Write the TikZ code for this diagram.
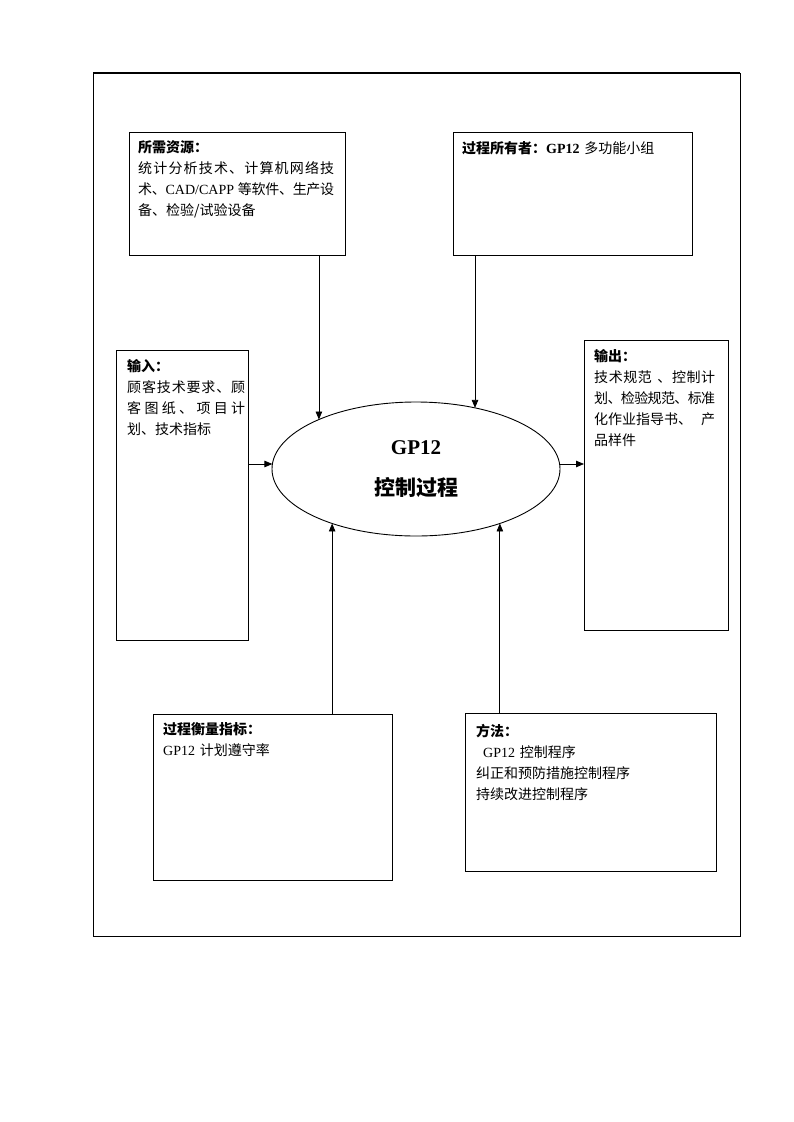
\documentclass[tikz,border=0pt]{standalone}
\usepackage{fontspec}
\setmainfont{Liberation Serif}
\newfontfamily\cj{Noto Sans CJK SC}
\usetikzlibrary{shapes.geometric,arrows.meta}
\makeatletter
\newcommand\gl{\hskip 0pt plus 1fil minus 1fil\relax}
\newcommand\spreadln[2]{\makebox[#1][s]{\def\sl@f{1}\@tfor\sl@c:=#2\do{\ifx\sl@f\@empty\gl\fi\sl@c\let\sl@f\@empty}}}
\makeatother
\newcommand\la[1]{{\rmfamily #1}}
\tikzset{
  box/.style={draw, line width=0.9pt, inner sep=0pt, outer sep=0pt, anchor=north west},
  txt/.style={inner sep=0pt, anchor=base west, text width=#1, align=left,
    font=\fontsize{14}{21}\selectfont\cj},
  arr/.style={line width=0.8pt, -{Triangle[length=8pt,width=6.5pt]}},
}
\begin{document}
\begin{tikzpicture}[x=1pt,y=-1pt]
\useasboundingbox (0,0) rectangle (793,1122);
% outer frame
\node[box, line width=1pt, minimum width=647pt, minimum height=863pt] (frame) at (93,73) {};
\draw[line width=2.2pt] (frame.north west) -- (frame.north east);
% boxes
\node[box, minimum width=216pt, minimum height=123pt] (res) at (129,132) {};
\node[box, minimum width=239pt, minimum height=123pt] (own) at (453,132) {};
\node[box, minimum width=132pt, minimum height=290pt] (inp) at (116,350) {};
\node[box, minimum width=144pt, minimum height=290pt] (out) at (584,340) {};
\node[box, minimum width=239pt, minimum height=166pt] (meas) at (153,714) {};
\node[box, minimum width=251pt, minimum height=158pt] (meth) at (465,713) {};
% central process
\node[ellipse, draw, line width=0.9pt, minimum width=288pt, minimum height=134pt,
  inner sep=0pt, outer sep=0pt, align=center,
  font=\fontsize{21}{41}\selectfont\cj\bfseries] (proc) at (416,469)
  {\la{GP12}\\控制过程};
% texts
\node[txt=200pt] (resT) at (138,152.5) {{\bfseries 所需资源：}\\
  \spreadln{196pt}{统计分析技术、计算机网络技}\\
  \makebox[196pt][s]{术\gl 、\gl\la{CAD/CAPP}\hspace{4pt}\gl 等\gl 软\gl 件\gl 、\gl 生\gl 产\gl 设}\\
  备、检验/试验设备};
\node[txt=230pt] (ownT) at (462,153) {{\bfseries 过程所有者：\la{GP12}} 多功能小组};
\node[txt=120pt] (inpT) at (127,371) {{\bfseries 输入：}\\
  \spreadln{118pt}{顾客技术要求、顾}\\
  \spreadln{118pt}{客图纸、项目计}\\
  划、技术指标};
\node[txt=125pt] (outT) at (594,361) {{\bfseries 输出：}\\
  \spreadln{121pt}{技术规范{\hspace{5pt}、}控制计}\\
  \spreadln{121pt}{划、检验规范、标准}\\
  \makebox[121pt][s]{化作业指导书、\gl 产}\\
  品样件};
\node[txt=220pt] (measT) at (163,734.5) {{\bfseries 过程衡量指标：}\\
  \la{GP12} 计划遵守率};
\node[txt=230pt] (methT) at (476,736) {{\bfseries 方法：}\\
  \hspace*{7pt}\la{GP12} 控制程序\\
  纠正和预防措施控制程序\\
  持续改进控制程序};
% connectors
\draw[arr] (proc.153 |- res.south) -- (proc.153);
\draw[arr] (proc.46 |- own.south) -- (proc.46);
\draw[arr] (proc.178 -| inp.east) -- (proc.178);
\draw[arr] (proc.2) -- (proc.2 -| out.west);
\draw[arr] (proc.213 |- meas.north) -- (proc.213);
\draw[arr] (proc.327 |- meth.north) -- (proc.327);
\end{tikzpicture}
\end{document}
